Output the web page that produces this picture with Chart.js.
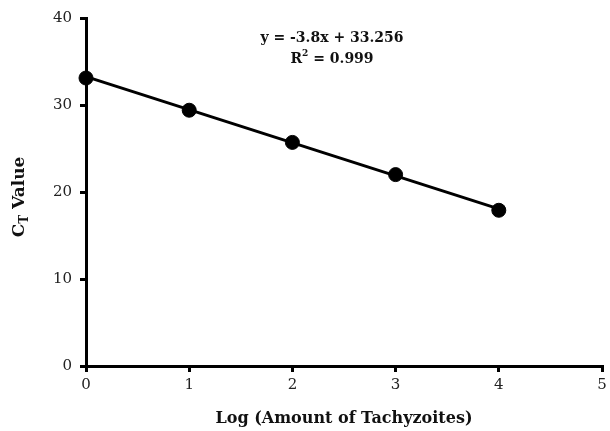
<!DOCTYPE html>
<html>
<head>
<meta charset="utf-8">
<script src="https://cdn.jsdelivr.net/npm/chart.js@4/dist/chart.umd.min.js"></script>
<style>
  html, body { margin: 0; padding: 0; background: #fff; }
  #wrap { width: 610px; height: 431px; position: relative; }
</style>
</head>
<body>
<div id="wrap"><canvas id="ctChart"></canvas></div>
<script>
// data
const logAmount = [0, 1, 2, 3, 4];
const ctValues = [33.1, 29.4, 25.7, 22.0, 17.9];
const slope = -3.8;
const intercept = 33.256;
const rSquared = '0.999';
const xTicks = [0, 1, 2, 3, 4, 5];
const yTicks = [0, 10, 20, 30, 40];

const fitLine = [logAmount[0], logAmount[logAmount.length - 1]].map(x => ({ x: x, y: slope * x + intercept }));
const points = logAmount.map((x, i) => ({ x: x, y: ctValues[i] }));

const serif = '"DejaVu Serif", "Liberation Serif", serif';

const textPlugin = {
    id: 'textPlugin',
    afterDraw(chart) {
        const c = chart.ctx;
        const area = chart.chartArea;
        c.save();
        c.fillStyle = '#111';
        c.textBaseline = 'middle';
        c.textAlign = 'center';

        // equation
        c.font = 'bold 14px ' + serif;
        c.fillText('y = ' + slope + 'x + ' + intercept, 332, 38);
        const rText = ' = ' + rSquared;
        const wR = c.measureText('R').width;
        const wRest = c.measureText(rText).width;
        c.font = 'bold 9px ' + serif;
        const w2 = c.measureText('2').width;
        let sx = 332 - (wR + w2 + wRest) / 2;
        c.textAlign = 'left';
        c.font = 'bold 14px ' + serif;
        c.fillText('R', sx, 59);
        c.font = 'bold 9px ' + serif;
        c.fillText('2', sx + wR, 54);
        c.font = 'bold 14px ' + serif;
        c.fillText(rText, sx + wR + w2, 59);

        // x title
        c.textAlign = 'center';
        c.font = 'bold 16px ' + serif;
        c.fillText('Log (Amount of Tachyzoites)', (area.left + area.right) / 2, 419);

        // y title
        c.translate(20, 197);
        c.rotate(-Math.PI / 2);
        c.font = 'bold 17px ' + serif;
        const wC = c.measureText('C').width;
        const wV = c.measureText(' Value').width;
        c.font = 'bold 12px ' + serif;
        const wT = c.measureText('T').width;
        sx = -(wC + wT + wV) / 2;
        c.textAlign = 'left';
        c.font = 'bold 17px ' + serif;
        c.fillText('C', sx, 0);
        c.font = 'bold 12px ' + serif;
        c.fillText('T', sx + wC, 5);
        c.font = 'bold 17px ' + serif;
        c.fillText(' Value', sx + wC + wT, 0);
        c.restore();
    }
};

new Chart(document.getElementById('ctChart').getContext('2d'), {
    type: 'scatter',
    data: {
        datasets: [
            {
                label: 'Fit',
                data: fitLine,
                showLine: true,
                borderColor: '#000',
                borderWidth: 3,
                pointRadius: 0,
                clip: false
            },
            {
                label: 'CT',
                data: points,
                backgroundColor: '#000',
                borderColor: '#000',
                pointRadius: 7,
                pointHoverRadius: 7,
                clip: false
            }
        ]
    },
    options: {
        responsive: true,
        maintainAspectRatio: false,
        animation: false,
        layout: { padding: { top: 18, right: 4, left: 0, bottom: 0 } },
        plugins: {
            legend: { display: false },
            tooltip: { enabled: false }
        },
        scales: {
            x: {
                type: 'linear',
                min: 0,
                max: 5,
                afterBuildTicks: s => { s.ticks = xTicks.map(v => ({ value: v })); },
                afterFit: s => { s.height = 65; s.paddingLeft = 0; s.paddingRight = 0; },
                border: { display: true, color: '#000', width: 3 },
                grid: { drawOnChartArea: false, drawTicks: true, tickLength: 6, color: '#000', lineWidth: 3 },
                ticks: { color: '#222', padding: 4, font: { family: serif, size: 15 } }
            },
            y: {
                min: 0,
                max: 40,
                afterBuildTicks: s => { s.ticks = yTicks.map(v => ({ value: v })); },
                afterFit: s => { s.width = 86; s.paddingTop = 0; s.paddingBottom = 0; },
                border: { display: true, color: '#000', width: 3 },
                grid: { drawOnChartArea: false, drawTicks: true, tickLength: 6, color: '#000', lineWidth: 3 },
                ticks: { color: '#222', padding: 8, font: { family: serif, size: 15 } }
            }
        }
    },
    plugins: [textPlugin]
});
</script>
</body>
</html>
